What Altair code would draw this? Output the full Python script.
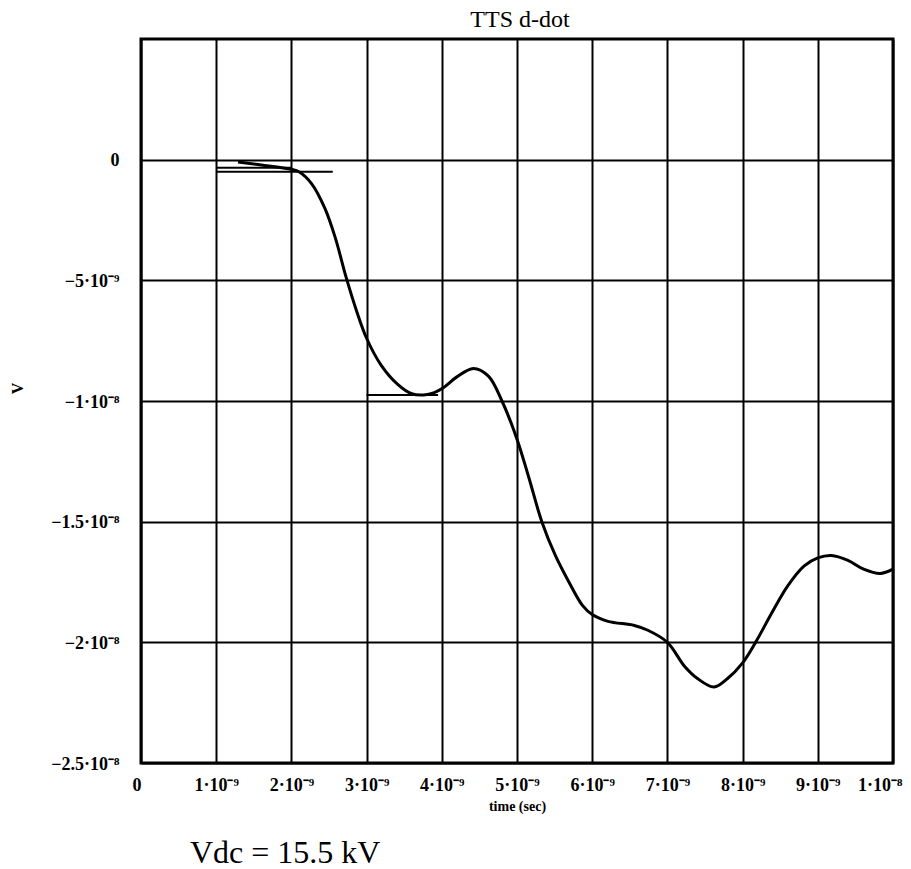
import json
import altair as alt
import pandas as pd

# ---- data (time in ns, voltage in units of 1e-9 V) ----
t_ns = [1.29, 1.6, 2.0, 2.1, 2.27, 2.44, 2.58, 2.73, 2.87, 3.0, 3.19, 3.41, 3.6,
        3.76, 3.9, 4.02, 4.2, 4.42, 4.62, 4.8, 5.0, 5.16, 5.33, 5.51, 5.69, 5.87,
        6.0, 6.21, 6.56, 6.74, 7.0, 7.23, 7.4, 7.62, 7.8, 8.0, 8.18, 8.38, 8.6,
        8.82, 9.0, 9.18, 9.4, 9.61, 9.83, 10.0]
v_nV = [-0.1, -0.22, -0.4, -0.5, -1.0, -1.98, -3.2, -4.9, -6.3, -7.4, -8.5, -9.3, -9.7,
        -9.75, -9.65, -9.45, -9.0, -8.65, -8.97, -10.0, -11.58, -13.2, -15.0, -16.4, -17.5, -18.47,
        -18.85, -19.13, -19.3, -19.5, -20.0, -21.0, -21.5, -21.85, -21.5, -20.85, -19.96, -18.83, -17.66,
        -16.83, -16.5, -16.4, -16.6, -16.97, -17.15, -16.97]

# short horizontal trace markers
seg_id = ["a", "a", "b", "b", "c", "c"]
seg_t_ns = [1.0, 2.55, 1.0, 2.0, 3.0, 3.95]
seg_v_nV = [-0.5, -0.5, -0.33, -0.33, -9.75, -9.75]

x_ticks = [0, 1e-9, 2e-9, 3e-9, 4e-9, 5e-9, 6e-9, 7e-9, 8e-9, 9e-9, 1e-8]
x_labels = ["0", "1·10⁻⁹", "2·10⁻⁹", "3·10⁻⁹", "4·10⁻⁹", "5·10⁻⁹", "6·10⁻⁹",
            "7·10⁻⁹", "8·10⁻⁹", "9·10⁻⁹", "1·10⁻⁸"]
y_ticks = [0, -5e-9, -1e-8, -1.5e-8, -2e-8, -2.5e-8]
y_labels = ["0", "−5·10⁻⁹", "−1·10⁻⁸", "−1.5·10⁻⁸", "−2·10⁻⁸", "−2.5·10⁻⁸"]

title_text = "TTS d-dot"
note_text = "Vdc = 15.5 kV"

curve = pd.DataFrame({"time": [t * 1e-9 for t in t_ns], "V": [v * 1e-9 for v in v_nV]})
segs = pd.DataFrame({"seg": seg_id, "time": [t * 1e-9 for t in seg_t_ns],
                     "V": [v * 1e-9 for v in seg_v_nV]})

FONT = "Liberation Serif"

x_enc = alt.X("time:Q", scale=alt.Scale(domain=[0, 1e-8], nice=False, zero=False),
              axis=alt.Axis(values=x_ticks,
                            labelExpr=json.dumps(x_labels, ensure_ascii=False) + "[round(datum.value*1e9)]",
                            title="time (sec)", titleFont=FONT, titleFontSize=14, titleFontWeight="bold",
                            titleY=36, titleBaseline="top",
                            labelFont=FONT, labelFontSize=18, labelFontWeight="bold",
                            labelPadding=13, labelBaseline="top",
                            labelOverlap=False, labelFlush=True, labelFlushOffset=9,
                            ticks=False, domain=False, grid=True,
                            gridColor="black", gridWidth=2, gridOpacity=1))
y_enc = alt.Y("V:Q", scale=alt.Scale(domain=[-2.5e-8, 5e-9], nice=False, zero=False),
              axis=alt.Axis(values=y_ticks,
                            labelExpr=json.dumps(y_labels, ensure_ascii=False) + "[round(-datum.value/5e-9)]",
                            title="V", titleFont=FONT, titleFontSize=16, titleFontWeight="bold",
                            titleX=-124, titleY=349, titleAngle=-90, titleAlign="center",
                            titleBaseline="middle",
                            labelFont=FONT, labelFontSize=18, labelFontWeight="bold",
                            labelPadding=22, labelBaseline="middle", labelOffset=1,
                            labelOverlap=False, labelFlush=False,
                            ticks=False, domain=False, grid=True,
                            gridColor="black", gridWidth=2, gridOpacity=1))

line = alt.Chart(curve).mark_line(color="black", strokeWidth=3, interpolate="catmull-rom").encode(
    x=x_enc, y=y_enc)

markers = alt.Chart(segs).mark_line(color="black", strokeWidth=2).encode(
    x="time:Q", y="V:Q", detail="seg:N")

note = alt.Chart(pd.DataFrame({"label": [note_text]})).mark_text(
    font=FONT, fontSize=32, align="left", baseline="alphabetic", color="black"
).encode(x=alt.value(49), y=alt.value(824), text="label:N")

head = alt.Chart(pd.DataFrame({"label": [title_text]})).mark_text(
    font=FONT, fontSize=24, align="center", baseline="alphabetic", color="black"
).encode(x=alt.value(379), y=alt.value(-12), text="label:N")

chart = alt.layer(line, markers, note, head).properties(
    width=752, height=724,
    autosize=alt.AutoSizeParams(type="none"),
    padding={"left": 133, "top": 31, "right": 10, "bottom": 106},
).configure(
    background="white",
    view=alt.ViewConfig(stroke="black", strokeWidth=3),
)

chart.save("out.html", embed_options={"renderer": "svg", "actions": False})
